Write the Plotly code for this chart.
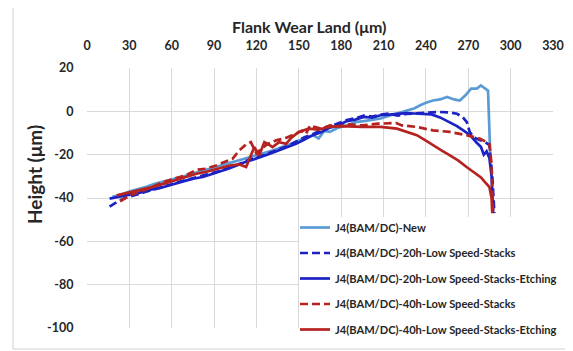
import plotly.graph_objects as go

# ---------------- data ----------------
x_ticks = [0, 30, 60, 90, 120, 150, 180, 210, 240, 270, 300, 330]
y_ticks = [20, 0, -20, -40, -60, -80, -100]

new_x = [18, 24, 30, 36, 42, 48, 54, 60, 66, 72, 78, 84, 90, 96, 102, 108, 114, 120, 126, 132,
         138, 144, 150, 156, 160, 164, 168, 172, 178, 184, 190, 196, 202, 208, 214, 220, 226, 232,
         236, 240, 245, 250, 255, 260, 264, 268, 272, 276, 279, 282, 284, 285.5]
new_y = [-39.5, -38.5, -37, -36, -34.8, -33.5, -32.6, -31.5, -30.5, -29.3, -28.2, -27, -26, -24.8,
         -23.8, -22.5, -21.5, -20.5, -19.2, -18, -16.5, -15.2, -13.5, -12, -11, -12.5, -9, -9.5,
         -7.5, -6.5, -5, -4.5, -4, -3.3, -2, -0.8, 0.2, 1.4, 2.8, 4.0, 5, 5.5, 6.6, 5.5, 5, 7.4,
         10.5, 10.5, 12, 10.5, 9.5, -19]

s20_x = [16, 22, 28, 34, 40, 46, 52, 58, 64, 70, 76, 82, 88, 94, 100, 106, 112, 118, 124, 130,
         136, 142, 148, 154, 160, 166, 172, 178, 184, 190, 196, 202, 208, 214, 220, 226, 232, 238,
         244, 250, 256, 262, 266, 269, 271, 274, 278, 282, 285, 287, 288.5]
s20_y = [-44, -41.5, -39.8, -38.5, -37.5, -36.3, -35, -34, -32.8, -31.8, -30.8, -29.8, -28.6,
         -27.5, -26.2, -24.8, -23, -21.8, -20.5, -19, -17.5, -16, -14, -12, -10.5, -8.5, -7, -5.5,
         -4, -3.2, -2.0, -2.4, -1.5, -1.0, -2.0, -1.2, -1.0, -0.6, -0.4, -0.3, -0.5, -1.1, -2.6,
         -5, -9.5, -12, -13.2, -14.2, -15.6, -30, -47]

e20_x = [16, 22, 28, 34, 40, 46, 52, 58, 64, 70, 76, 82, 88, 94, 100, 106, 112, 118, 124, 130,
         136, 142, 148, 154, 160, 166, 172, 178, 184, 190, 196, 202, 208, 214, 220, 226, 232, 238,
         244, 250, 256, 262, 268, 272, 276, 279, 281, 283, 285, 286.5, 287.6]
e20_y = [-40.3, -39.5, -38.8, -38, -37.2, -36, -35.3, -34.2, -33, -32, -31, -30.3, -29, -27.8,
         -26.5, -25, -23.4, -22.2, -21, -19.5, -18, -16.5, -15, -13, -11, -9.6, -7.5, -6.5, -4.5,
         -3.8, -2.6, -2.9, -1.8, -1.5, -1.3, -0.8, -1.0, -1.2, -1.4, -2.8, -4.8, -6.8, -9.5,
         -11.5, -14.5, -16.5, -20, -18.5, -21.7, -30, -47]

s40_x = [23.5, 30, 38, 46, 54, 62, 70, 77.5, 84, 91.5, 97, 103, 108, 112.7, 116, 118, 120, 124,
         128, 134, 140, 148, 152, 155, 158, 161, 166, 172, 178, 184, 195, 206, 219, 223, 233.6,
         245, 257, 268.8, 278, 283, 285, 286.4, 287.6]
s40_y = [-41.5, -39, -37, -35, -32.6, -31, -29.5, -27, -26.5, -25, -23.5, -21.9, -18, -15.2,
         -14.2, -17, -19.5, -17, -15, -13.4, -12.5, -10.3, -9, -10.5, -6.5, -7.2, -8, -6.5, -7,
         -6, -6.5, -5.7, -5.4, -6.5, -7.2, -8.8, -9.5, -11, -12.6, -14.2, -15, -24, -47]

e40_x = [21, 30, 38, 46, 54, 62, 70, 77.5, 84, 90, 96, 101, 108, 112.7, 115, 118.5, 122, 125.6,
         128, 131.4, 136, 141, 145, 150, 157, 164, 171, 180, 195, 208, 219.5, 226, 233.6, 240,
         245, 251, 257, 263, 268.8, 275.8, 279, 281.7, 285, 286.5, 287]
e40_y = [-38.8, -37.5, -36, -35, -33.5, -32, -30.5, -28.8, -28, -27, -26, -25, -24.5, -25.7,
         -22, -16.5, -20.3, -14.2, -15, -16.5, -14.2, -15, -12, -9.5, -8, -8.5, -7.2, -6.8,
         -7.2, -7.2, -8, -9.5, -11, -13.5, -15.7, -18, -20.3, -22.8, -25.7, -28.8, -30.5, -32.6,
         -35, -40, -47]

series_names = [
    "J4(BAM/DC)-New",
    "J4(BAM/DC)-20h-Low Speed-Stacks",
    "J4(BAM/DC)-20h-Low Speed-Stacks-Etching",
    "J4(BAM/DC)-40h-Low Speed-Stacks",
    "J4(BAM/DC)-40h-Low Speed-Stacks-Etching",
]

# ---------------- figure ----------------
FONT = "Lato"
TXT = "#262626"
LIGHT = "#5B9BD5"
BLUE = "#1C22C4"
RED = "#B5221F"
DASH = "8px,4px"

styles = [
    (new_x, new_y, LIGHT, "solid"),
    (s20_x, s20_y, BLUE, DASH),
    (e20_x, e20_y, BLUE, "solid"),
    (s40_x, s40_y, RED, DASH),
    (e40_x, e40_y, RED, "solid"),
]

fig = go.Figure()
for i, (name, (xs, ys, col, dash)) in enumerate(zip(series_names, styles)):
    fig.add_trace(go.Scatter(
        x=xs, y=ys, mode="lines", name=name, legendgroup=f"g{i}",
        line=dict(color=col, width=2.7, dash=dash),
    ))

# the page body adds an 8px offset; work in screen (reference) pixels
OFF = 8
W, H = 565, 343
L, R, T, B = 79, 20, 60, 23
pw, ph = W - L - R, H - T - B

def px_to_paper_x(px):
    return (px - OFF - L) / pw

def px_to_paper_y(py):
    return (H - B - (py - OFF)) / ph

fig.update_layout(
    width=W, height=H,
    margin=dict(l=L, r=R, t=T, b=B, autoexpand=False),
    paper_bgcolor="white", plot_bgcolor="white",
    font=dict(family=FONT, color=TXT),
    showlegend=True,
    legend=dict(
        x=px_to_paper_x(295), y=px_to_paper_y(213), xanchor="left", yanchor="top",
        bgcolor="rgba(0,0,0,0)", borderwidth=0,
        font=dict(family=FONT, size=11.1, color=TXT, weight="bold"),
        tracegroupgap=6.5, itemwidth=30,
    ),
    xaxis=dict(
        side="top", range=[0, 330], tickvals=x_ticks, ticktext=[str(v) for v in x_ticks],
        showgrid=True, gridcolor="#D9D9D9", gridwidth=1, zeroline=False,
        showline=False, ticks="outside", ticklen=12, tickcolor="rgba(0,0,0,0)",
        tickfont=dict(family=FONT, size=12.5, weight="bold", color=TXT),
    ),
    yaxis=dict(
        range=[-100, 20], tickvals=y_ticks, ticktext=[str(v) for v in y_ticks],
        showgrid=True, gridcolor="#D9D9D9", gridwidth=1, zeroline=False,
        showline=False, ticks="outside", ticklen=10, tickcolor="rgba(0,0,0,0)",
        tickfont=dict(family=FONT, size=12.5, weight="bold", color=TXT),
    ),
    annotations=[
        dict(text="Flank Wear Land (μm)", xref="paper", yref="paper",
             x=px_to_paper_x(309), y=px_to_paper_y(27), xanchor="center", yanchor="middle",
             showarrow=False, font=dict(family=FONT, size=16, weight="bold", color=TXT)),
        dict(text="Height (μm)", xref="paper", yref="paper", textangle=-90,
             x=px_to_paper_x(34), y=px_to_paper_y(175), xanchor="center", yanchor="middle",
             showarrow=False, font=dict(family=FONT, size=19, weight="bold", color=TXT)),
    ],
    shapes=[
        dict(type="rect", xref="paper", yref="paper",
             x0=px_to_paper_x(13), x1=px_to_paper_x(566),
             y0=px_to_paper_y(349), y1=px_to_paper_y(7),
             line=dict(color="#D0D0D0", width=1), fillcolor="rgba(0,0,0,0)", layer="below"),
        dict(type="rect", xref="paper", yref="paper",
             x0=px_to_paper_x(299), x1=px_to_paper_x(564),
             y0=px_to_paper_y(346), y1=px_to_paper_y(217),
             line=dict(width=0), fillcolor="white", layer="above"),
    ],
)

fig.write_html("out.html")
